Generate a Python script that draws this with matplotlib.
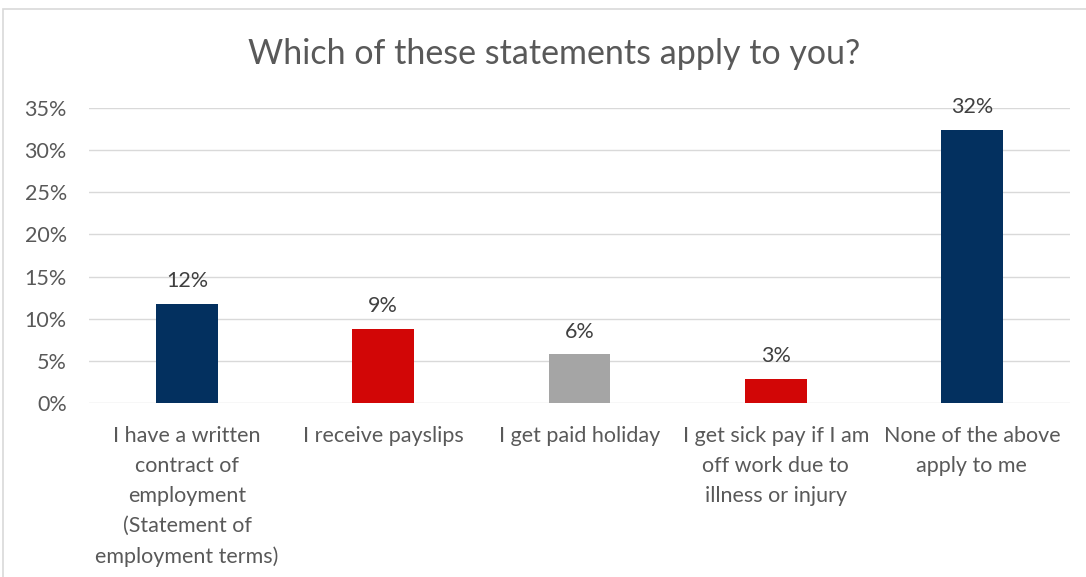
import matplotlib.pyplot as plt
from matplotlib.patches import Rectangle
from matplotlib.ticker import PercentFormatter

plt.rcParams['font.family'] = ['Lato', 'DejaVu Sans']

# Survey answers
categories = [
    'I have a written\ncontract of\nemployment\n(Statement of\nemployment terms)',
    'I receive payslips',
    'I get paid holiday',
    'I get sick pay if I am\noff work due to\nillness or injury',
    'None of the above\napply to me',
]
shares = [0.118, 0.088, 0.058, 0.029, 0.324]
bar_colors = ['#03305F', '#D20606', '#A5A5A5', '#D20606', '#03305F']
y_ticks = [0.0, 0.05, 0.10, 0.15, 0.20, 0.25, 0.30, 0.35]

W, H = 1086, 577
fig = plt.figure(figsize=(W / 100, H / 100), dpi=100)

# chart frame (only top and left edges visible)
fig.patches.append(Rectangle((3 / W, -0.1), 1.2, 1 - 9 / H + 0.1,
                             transform=fig.transFigure, fill=False,
                             edgecolor='#D9D9D9', linewidth=1.2))

ax = fig.add_axes([89 / W, 1 - 403.3 / H, (1070 - 89) / W, (403.3 - 107.7) / H])

x = range(len(categories))
ax.bar(x, shares, width=0.316, color=bar_colors, zorder=3)

for xi, v in zip(x, shares):
    ax.annotate(f'{v:.0%}', (xi, v), xytext=(0, 9), textcoords='offset points',
                ha='center', va='bottom', fontsize=15.5, color='#404040')

ax.set_xlim(-0.5, len(categories) - 0.5)
ax.set_ylim(0, 0.35)
ax.set_yticks(y_ticks)
ax.yaxis.set_major_formatter(PercentFormatter(1.0, decimals=0))
ax.set_xticks(list(x))
ax.set_xticklabels(categories, linespacing=1.63)

ax.grid(axis='y', color='#D9D9D9', linewidth=1.0, zorder=0)
for side in ['top', 'right', 'left', 'bottom']:
    ax.spines[side].set_visible(False)
ax.tick_params(axis='y', length=0, pad=16, labelsize=15.5, labelcolor='#595959')
ax.tick_params(axis='x', length=0, pad=16, labelsize=15.5, labelcolor='#595959')

fig.text(554 / W, 1 - 64 / H, 'Which of these statements apply to you?',
         ha='center', va='baseline', fontsize=24.5, color='#595959')

fig.savefig('out.png', dpi=100)
